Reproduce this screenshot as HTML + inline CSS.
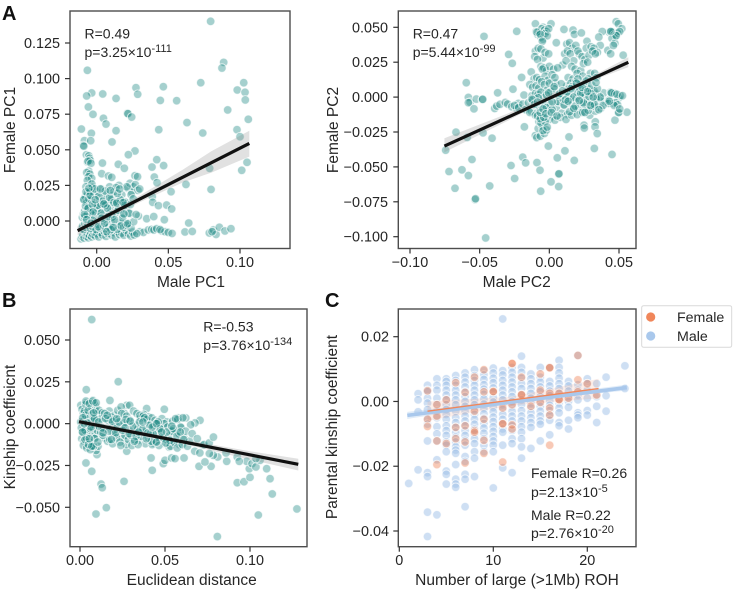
<!DOCTYPE html>
<html lang="en">
<head>
<meta charset="utf-8">
<title>Kinship and PC correlation panels</title>
<style>
html,body{margin:0;padding:0;background:#fff;width:733px;height:591px;overflow:hidden}
svg{display:block;filter:blur(0.35px)}
text{font-family:"Liberation Sans",sans-serif;fill:#262626}
.ann{font-size:14px}
.sup{font-size:11px}
.letter{font-size:20px;font-weight:bold;fill:#111}
.leg{font-size:14.2px}
</style>
</head>
<body>
<svg id="figure" width="733" height="591" viewBox="0 0 733 591" xmlns="http://www.w3.org/2000/svg">
  <g id="layer"></g>
  <text class="letter" x="2" y="20">A</text>
  <text class="letter" x="2" y="307">B</text>
  <text class="letter" x="325" y="307">C</text>

  <text class="ann" x="84.5" y="38.7">R=0.49</text>
  <text class="ann" x="84.5" y="57">p=3.25×10<tspan class="sup" dy="-5">-111</tspan></text>

  <text class="ann" x="412.7" y="38.7">R=0.47</text>
  <text class="ann" x="412.7" y="57">p=5.44×10<tspan class="sup" dy="-5">-99</tspan></text>

  <text class="ann" x="203.3" y="331.7">R=-0.53</text>
  <text class="ann" x="203.3" y="350">p=3.76×10<tspan class="sup" dy="-5">-134</tspan></text>

  <text class="ann" x="531" y="478">Female R=0.26</text>
  <text class="ann" x="531" y="497">p=2.13×10<tspan class="sup" dy="-5">-5</tspan></text>
  <text class="ann" x="531" y="520">Male R=0.22</text>
  <text class="ann" x="531" y="538">p=2.76×10<tspan class="sup" dy="-5">-20</tspan></text>

  <g>
    <rect x="641.7" y="305.7" width="90" height="41.6" rx="2" fill="#fff" stroke="#d9d9d9" stroke-width="1"></rect>
    <circle cx="650.7" cy="317" r="4.6" fill="#f0865a"></circle>
    <text class="leg" x="677" y="322">Female</text>
    <circle cx="650.7" cy="336" r="4.6" fill="#a9c8ec"></circle>
    <text class="leg" x="677" y="341">Male</text>
  </g>
</svg>

<script>
/* ===== Panel A left: Male PC1 vs Female PC1 ===== */
const pc1XTicks = [0, 0.05, 0.1];
const pc1YTicks = [0, 0.025, 0.05, 0.075, 0.1, 0.125];
const pc1OutlierMale = [
.0795,.0886,.0874,-.0065,.0726,.1026,.0274,.0465,.0981,.1035,
-.0035,-.007,.0042,.0286,.0135,.0444,.0558,.1037,-.0058,.0914,
-.0026,.0214,.0218,.0244,.0047,.0065,.063,.1058,-.0107,.0433,
.0135,.0979,-.0037,.074,.1,-.0086,-.0042,.0107,-.0093,-.0090,
.0267,.0221,.0419,.1049,.004,.0151,.0386,.0467,.0193,.0788,
.1012,.0035,.0082,.0105,.0267,.0285,.0402,.0421,.0623,.0798,
.0519,.0388,.0391,.0431,.0488,.0523,.0291,.0349,.0398,.0472,
.0642];
const pc1OutlierFemale = [
.1402,.1114,.1074,.1058,.0971,.0971,.0936,.0943,.092,.0904,
.0899,.0878,.0892,.089,.0861,.0847,.0845,.085,.0801,.078,
.0749,.0756,.0754,.073,.0721,.0681,.0691,.0714,.0646,.0641,
.0634,.0641,.0616,.0618,.0592,.0564,.0564,.0555,.0531,.0525,
.0492,.0466,.0431,.0412,.0407,.0398,.0379,.0389,.037,.037,
.0356,.0332,.0316,.0307,.0318,.0311,.0309,.0269,.0257,.0222,
.0206,.0171,.0131,.0108,.0112,.0085,.0035,.0016,.0031,.0009,
-.0014];
const pc1RowMale = [
.0302,.0326,.036,.0384,.04,.0419,.0453,.0477,.05,.0526,
.0616,.0667,.0786,.0814,.0833,.0856,.0895,.0937,.0805,.0442];
const pc1RowFemale = [
-.0075,-.008,-.0063,-.0059,-.0063,-.0054,-.007,-.0075,-.008,-.0087,
-.0077,-.0073,-.0084,-.0063,-.0094,-.0044,-.007,-.0054,-.0075,-.006];
const pc1ColumnMale = [
-.0072,-.0055,-.0050,-.0065,-.0045,-.0060,-.0040,-.0055,-.0070,-.0048,
-.0058,-.0035,-.0065,-.0075,-.0050,-.0042];
const pc1ColumnFemale = [
.0465,.0458,.0440,.0415,.0425,.0420,.0405,.0350,.0340,.0330,
.0310,.0300,.0285,.0240,.0225,.0210];
const pc1DenseMale = [
-.0110,-.0102,-.0095,-.0088,-.0080,-.0072,-.0065,-.0058,-.0050,-.0042,
-.0035,-.0026,-.0018,-.0010,.0002,.0015,.0028,.0040,.0052,.0065,
.0078,.0090,.0105,.0118,.0130,.0145,.0160,.0175,.0190,.0205,
.0222,.0238,.0250,.0262,.0280,-.0105,-.0098,-.0090,-.0082,-.0075,
-.0068,-.0060,-.0052,-.0044,-.0036,-.0028,-.0016,-.0004,.0010,.0022,
.0035,.0048,.0060,.0072,.0085,.0098,.0112,.0128,.0142,.0158,
.0172,.0188,.0205,.0220,.0240,.0258,-.0100,-.0092,-.0084,-.0076,
-.0068,-.0060,-.0052,-.0044,-.0035,-.0025,-.0015,-.0003,.0012,.0026,
.0040,.0055,.0068,.0082,.0096,.0110,.0124,.0138,.0152,.0168,
.0185,.0202,.0218,.0234,-.0088,-.0080,-.0072,-.0064,-.0056,-.0048,
-.0040,-.0032,-.0024,-.0012,.0004,.0018,.0032,.0046,.0060,.0075,
.0090,.0105,.0120,.0138,.0155,.0175,.0195,.0215,.0232,.0245,
.0255,.0270,.0288,.0300,-.0085,-.0072,-.0060,-.0050,-.0040,-.0030,
-.0078,-.0066,-.0054,-.0046,-.0034,.0006,.0030,.0062,.0100,.0140];
const pc1DenseFemale = [
-.0125,-.0110,-.0098,-.0120,-.0085,-.0108,-.0092,-.0118,-.0100,-.0082,
-.0112,-.0095,-.0078,-.0105,-.0090,-.0112,-.0080,-.0098,-.0072,-.0108,
-.0088,-.0068,-.0100,-.0082,-.0112,-.0075,-.0095,-.0085,-.0100,-.0065,
-.0090,-.0105,-.0078,-.0098,-.0088,-.0055,-.0035,-.0060,-.0020,-.0045,
-.0010,-.0030,.0000,-.0052,-.0018,-.0040,-.0005,-.0060,-.0025,-.0048,
.0002,-.0032,-.0055,-.0012,-.0042,.0006,-.0038,-.0008,-.0058,-.0022,
-.0012,-.0045,-.0030,-.0015,-.0050,-.0005,.0025,.0050,.0070,.0042,
.0085,.0030,.0060,.0095,.0040,.0075,.0020,.0058,.0105,.0032,
.0078,.0015,.0110,.0048,.0088,.0028,.0120,.0062,.0095,.0135,
.0040,.0085,.0125,.0052,.0150,.0170,.0135,.0195,.0160,.0215,
.0145,.0240,.0185,.0130,.0205,.0160,.0225,.0150,.0190,.0125,
.0240,.0175,.0205,.0150,.0250,.0185,.0135,.0230,.0265,.0200,
.0240,.0255,.0215,.0225,.0030,.0125,.0085,.0175,.0065,.0235,
.0105,.0045,.0155,.0205,.0260,.0090,.0120,.0110,.0150,.0135];
const pc1ExtraMale = [
.0005,.0015,.0030,.0045,.0060,.0075,.0090,.0105,.0120,.0135,
.0150,.0165,.0180,.0195,.0210,.0225,.0240,-.0090,-.0075,-.0060,
-.0045,-.0030,-.0015,.0010,.0035,.0055,.0080,.0100,.0125,.0145,
.0170,.0190,.0215,.0235,.0255,.0275,-.0085,-.0070,-.0055,-.0040,
-.0025,-.0010,.0025,.0050,.0070,.0095,.0115,.0140,.0160,.0185];
const pc1ExtraFemale = [
.0110,.0175,.0055,.0140,.0210,.0090,.0165,.0045,.0130,.0235,
.0075,.0150,.0020,.0110,.0240,.0055,.0185,.0150,.0205,.0090,
.0180,.0115,.0225,-.0040,.0020,-.0015,.0030,-.0060,.0010,.0195,
-.0035,.0050,-.0020,.0115,.0155,.0045,.0045,.0010,.0230,-.0015,
.0065,.0150,.0225,.0120,-.0075,.0215,-.0045,.0125,.0225,.0130];
const pc1LineMale = [-.0133, .1065];
const pc1LineFemale = [-.0068, .0545];
const pc1BandMale = [-.0133, .01, .03, .06, .08, .1065];
const pc1BandHigh = [-.0035, .0071, .0178, .036, .049, .0634];
const pc1BandLow = [-.0100, .0031, .0132, .027, .034, .0452];

/* ===== Panel A right: Male PC2 vs Female PC2 ===== */
const pc2XTicks = [-0.1, -0.05, 0, 0.05];
const pc2YTicks = [-0.1, -0.075, -0.05, -0.025, 0, 0.025, 0.05];
const pc2OutlierMale = [
-.0457,-.0533,-.0530,-.0677,-.0428,-.072,-.0627,-.0581,-.0555,-.0744,
-.067,-.0589,-.0476,-.0411,-.0275,-.0249,-.0191,-.017,-.0089,-.0067,
-.0062,.0012,.0067,.0069,.0067,.0057,.0112,.0179,-.0007,.0141,
.0323,.045,-.0179,.0249,.0251,.033,.0328,.0344,.0471,.0557,
.0495,.0498,-.0469,-.0234,-.0292,-.0266,-.0199,-.0596,-.0371,-.0261,
-.0581,-.0569,-.0581,-.0524,-.0481,-.0478,-.0541,-.0392,-.0378,-.0354,
-.0316,-.0299,-.0270,-.0222,-.0234,-.0182];
const pc2OutlierFemale = [
-.1009,-.0734,-.0728,-.0653,-.0636,-.0533,-.0521,-.0562,-.0447,-.038,
-.0251,-.0289,-.0256,-.0294,-.049,-.0583,-.043,-.0471,-.0469,-.0524,
-.0674,-.0607,-.0552,-.0549,-.0641,-.0435,-.0385,-.0454,-.0351,-.0285,
-.0368,-.0411,-.0213,-.0201,-.0222,-.0177,-.0213,-.0261,-.0165,-.0108,
-.0112,-.0110,.0435,.0471,.0306,.0242,.0141,.0103,.0031,.0057,
-.0002,-.0036,-.0040,-.0014,-.0017,-.0016,-.0084,-.0081,-.0064,-.0052,
-.0038,-.0050,-.0069,-.0045,-.0081,.0015];
const pc2TopLeftMale = [
-.0100,-.0095,-.0075,-.0060,-.0045,-.0085,-.0080,-.0070,-.0055,-.0035,
-.0020,.0012,-.0060,-.0045,-.0030,-.0015,-.0005,-.0090,-.0065,-.0050];
const pc2TopLeftFemale = [
.0525,.0470,.0465,.0455,.0500,.0450,.0470,.0455,.0490,.0480,
.0470,.0525,.0430,.0415,.0455,.0440,.0490,.0465,.0450,.0400];
const pc2TopRightMale = [
.0430,.0455,.0480,.0495,.0520,.0445,.0465,.0475,.0490,.0505,
.0450,.0470,.0480,.0420,.0440,.0460,.0440,.0530,.0380,.0365];
const pc2TopRightFemale = [
.0465,.0465,.0540,.0525,.0490,.0470,.0445,.0440,.0460,.0470,
.0420,.0385,.0440,.0335,.0310,.0370,.0470,.0300,.0470,.0370];
const pc2UpperMale = [
.0105,.0170,.0180,.0230,.0270,.0125,.0145,.0165,.0190,.0215,
.0265,.0300,.0320,.0345,.0355,.0110,.0130,.0150,.0175,.0205,
.0235,.0255,.0285,.0310,.0330,.0095,.0120,.0160,.0185,.0225,
.0245,.0275,.0295,.0135,.0170,.0200,.0240,.0280,.0325,.0125,
.0155,.0190,.0220,.0260,.0340,.0050];
const pc2UpperFemale = [
.0485,.0480,.0450,.0460,.0400,.0380,.0390,.0350,.0370,.0310,
.0350,.0360,.0350,.0320,.0430,.0310,.0330,.0310,.0260,.0330,
.0290,.0270,.0300,.0330,.0310,.0230,.0260,.0220,.0200,.0190,
.0240,.0250,.0170,.0140,.0130,.0170,.0150,.0130,.0170,.0080,
.0100,.0110,.0090,.0070,.0140,.0390];
const pc2MidMale = [
-.0100,-.0080,-.0060,-.0045,-.0030,-.0005,-.0105,-.0085,-.0060,-.0040,
-.0020,.0000,.0030,.0060,-.0130,-.0110,-.0090,-.0070,-.0050,-.0030,
-.0010,.0020,.0045,-.0140,-.0120,-.0095,-.0075,-.0055,-.0035,-.0015,
.0010,.0035,-.0125,-.0100,-.0080,-.0060,-.0040,-.0020];
const pc2MidFemale = [
.0330,.0350,.0345,.0280,.0320,.0310,.0290,.0270,.0220,.0210,
.0190,.0220,.0200,.0210,.0180,.0130,.0140,.0125,.0200,.0150,
.0120,.0160,.0100,.0090,.0070,.0080,.0065,.0110,.0090,.0050,
.0040,.0060,.0010,.0025,.0020,.0035,-.0005,.0015];
const pc2BandCoreMale = [
-.0250,-.0220,-.0190,-.0170,-.0150,-.0130,-.0110,-.0090,-.0070,-.0050,
-.0030,-.0010,.0010,.0030,.0050,.0070,.0090,.0110,.0130,.0150,
.0170,.0190,.0210,.0230,.0250,.0270,.0290,.0310,.0330,.0350,
.0370,.0400,.0430,.0460,.0500,-.0140,-.0120,-.0100,-.0080,-.0060,
-.0040,-.0020,.0000,.0020,.0040,.0060,.0080,.0100,.0120,.0140,
.0160,.0180,.0200,.0220,.0240,.0260,.0280,.0300,.0320,.0345,
.0365,.0390,.0425,.0450,.0475,.0510,.0120,.0140,.0160,.0180,
.0200,.0220,.0240,.0260,.0280,.0300,.0320,.0100,.0135,.0175,
.0210,.0250,.0290,.0335,.0385,.0440,.0470,.0490];
const pc2BandCoreFemale = [
-.0060,-.0075,-.0050,-.0090,-.0040,-.0100,-.0055,-.0115,-.0070,-.0130,
-.0060,-.0100,-.0050,-.0135,-.0075,-.0035,-.0115,-.0060,-.0125,-.0040,
-.0090,-.0025,-.0070,-.0110,-.0030,-.0085,-.0130,-.0045,-.0100,-.0020,
-.0080,-.0030,-.0020,-.0045,-.0005,-.0110,-.0020,-.0130,-.0005,-.0140,
-.0150,-.0075,-.0160,-.0090,-.0165,-.0030,-.0145,-.0015,-.0160,-.0020,
-.0130,-.0010,-.0125,.0015,-.0110,.0010,-.0095,.0030,-.0065,.0020,
-.0010,.0030,-.0045,.0030,-.0040,.0010,.0040,.0060,.0045,.0070,
.0035,.0060,.0030,.0050,.0060,.0035,.0045,.0015,.0010,.0000,
-.0020,-.0050,-.0035,-.0010,-.0060,.0035,.0025,-.0055];
const pc2LowerMale = [
-.0100,-.0090,-.0080,-.0065,-.0050,-.0035,-.0020,-.0075,-.0060,-.0045,
-.0030,-.0015,-.0085,-.0065,-.0040];
const pc2LowerFemale = [
-.0275,-.0290,-.0225,-.0280,-.0210,-.0260,-.0235,-.0175,-.0185,-.0240,
-.0175,-.0215,-.0135,-.0155,-.0145];
const pc2ExtraMale = [
.0000,.0020,.0040,.0065,.0085,.0105,.0125,.0145,.0165,.0185,
.0205,.0225,.0245,.0265,.0285,.0305,.0325,.0345,.0365,-.0125,
-.0105,-.0085,-.0065,-.0045,-.0025,-.0005,.0015,.0035,.0055,.0075,
.0095,.0115,.0135,.0155,.0175,.0195,.0215,.0235,.0255,.0275,
.0295,.0315,.0335,.0355,.0445,.0465,.0485,.0505,.0525,.0430];
const pc2ExtraFemale = [
.0100,-.0035,.0140,.0015,.0095,-.0055,.0035,-.0105,.0075,-.0065,
.0130,.0025,-.0040,.0115,.0005,.0085,-.0055,.0060,.0000,-.0015,
-.0050,-.0035,-.0110,-.0085,-.0120,.0030,-.0110,.0075,-.0135,.0025,
.0045,-.0020,-.0030,.0060,-.0080,.0100,-.0025,.0070,-.0110,.0040,
-.0060,.0000,.0105,-.0090,.0030,-.0060,.0020,-.0085,.0010,-.0030];
const pc2LineMale = [-.0753, .0567];
const pc2LineFemale = [-.0351, .0249];
const pc2BandMale = [-.0753, -.03, 0, .03, .0567];
const pc2BandHigh = [-.0295, -.0118, .0018, .0145, .0285];
const pc2BandLow = [-.0395, -.0170, -.0012, .0115, .0215];

/* ===== Panel B: Euclidean distance vs kinship ===== */
const kinXTicks = [0, 0.05, 0.1];
const kinYTicks = [-0.05, -0.025, 0, 0.025, 0.05];
const kinOutlierDistance = [
.0069,.0225,.0037,.0035,.0069,.0124,.0131,.0259,.0094,.0155,
.0808,.1049,.1276,.1131,.1118,.0925,.0965,.1,.1098,.0996,
.0980,.1012,.1035,.1059,.1035,.0925,.0937,.0863,.0859,.081,
.0784,.0761,.0771,.07,.0735,.0725,.0425,.0418,.0490,.0500,
.0539,.0559,.0612,.0275,.0706,.0676,.0651,.0622,.0578,.0496,
.0392,.0176,.0275,.0100,.0095];
const kinOutlierCoefficient = [
.0622,.0251,.0203,-.0235,-.0285,-.0361,-.0383,-.0345,-.054,-.0502,
-.0675,-.0546,-.051,-.042,-.0329,-.0353,-.0347,-.0321,-.0269,-.0269,
-.0225,-.0239,-.0259,-.0219,-.0209,-.0199,-.0225,-.0225,-.0175,-.0199,
-.0189,-.0179,-.0255,-.0255,-.0229,-.0129,-.0279,-.0205,-.0239,-.0219,
-.0205,-.0209,-.0205,-.0165,.002,.0004,-.0006,.0034,.0034,.0086,
.009,.0139,.011,-.0185,-.0160];
const kinDenseDistance = [
.0005,.0012,.0020,.0028,.0036,.0044,.0052,.0060,.0068,.0076,
.0084,.0092,.0100,.0010,.0018,.0026,.0034,.0042,.0050,.0058,
.0066,.0074,.0082,.0090,.0098,.0106,.0004,.0014,.0024,.0032,
.0040,.0048,.0056,.0064,.0072,.0080,.0088,.0096,.0008,.0016,
.0030,.0038,.0046,.0054,.0062,.0070,.0078,.0086,.0094,.0102,
.0112,.0122,.0132,.0142,.0152,.0162,.0172,.0182,.0192,.0202,
.0212,.0222,.0232,.0242,.0252,.0262,.0272,.0282,.0292,.0302,
.0115,.0125,.0135,.0145,.0155,.0165,.0175,.0185,.0195,.0205,
.0215,.0225,.0235,.0245,.0255,.0265,.0275,.0285,.0295,.0305,
.0315,.0325,.0335,.0345,.0355,.0365,.0375,.0385,.0395,.0405,
.0320,.0330,.0342,.0352,.0362,.0372,.0382,.0392,.0402,.0412,
.0422,.0432,.0442,.0452,.0462,.0472,.0482,.0492,.0502,.0512,
.0415,.0425,.0435,.0445,.0455,.0465,.0475,.0485,.0495,.0505,
.0515,.0525,.0535,.0545,.0555,.0565,.0575,.0585,.0595,.0605,
.0522,.0532,.0542,.0552,.0562,.0572,.0582,.0592,.0602,.0612,
.0622,.0632,.0645,.0660,.0675,.0690,.0705,.0730,.0760,.0785,
.0020,.0040,.0060,.0080,.0035,.0055,.0075,.0095,.0030,.0050,
.0070,.0140,.0180,.0220,.0260,.0300,.0340,.0380,.0420,.0460];
const kinDenseCoefficient = [
.0110,.0085,.0060,.0025,.0125,-.0015,.0095,.0045,-.0055,.0140,
.0015,.0105,.0060,-.0090,-.0035,.0075,.0115,-.0070,.0030,-.0100,
.0100,-.0115,.0125,-.0060,.0020,-.0135,.0010,-.0050,-.0105,.0050,
-.0125,.0080,-.0025,-.0140,.0060,-.0135,-.0010,-.0080,-.0025,.0035,
-.0040,-.0085,.0000,-.0110,-.0030,-.0130,.0035,-.0090,.0075,-.0040,
.0080,-.0050,.0065,-.0085,.0035,-.0105,.0075,-.0020,-.0120,.0050,
-.0065,.0080,-.0030,.0100,-.0085,.0060,-.0125,.0015,.0110,-.0045,
-.0020,.0030,-.0070,.0060,-.0035,.0020,-.0095,.0040,-.0055,.0005,
-.0085,.0025,-.0110,.0060,-.0015,-.0070,.0045,-.0095,.0020,-.0130,
.0075,-.0055,.0060,-.0100,.0035,-.0035,.0055,-.0120,.0020,.0040,
-.0095,-.0010,-.0125,.0050,-.0075,.0045,-.0050,.0025,-.0085,-.0005,
.0035,-.0115,.0020,-.0060,.0015,-.0090,.0030,-.0030,-.0120,.0010,
-.0060,-.0125,-.0015,-.0105,.0005,-.0130,-.0035,-.0075,.0000,-.0095,
-.0020,-.0140,-.0040,.0015,-.0110,-.0055,.0025,-.0125,-.0025,.0035,
-.0075,-.0135,-.0045,-.0110,.0030,-.0145,-.0060,-.0020,-.0125,-.0085,
-.0045,-.0135,-.0105,-.0060,-.0165,-.0090,-.0175,-.0125,-.0115,-.0080,
-.0130,-.0145,-.0155,-.0135,.0135,.0120,.0135,.0125,-.0095,-.0125,
-.0135,-.0030,.0025,-.0015,.0005,-.0070,-.0030,.0035,-.0105,.0010];
const kinExtraDistance = [
.0015,.0045,.0065,.0085,.0110,.0130,.0150,.0170,.0190,.0210,
.0230,.0250,.0270,.0290,.0310,.0330,.0350,.0370,.0390,.0410,
.0430,.0450,.0470,.0490,.0510,.0530,.0550,.0570,.0590,.0610,
.0025,.0055,.0080,.0105,.0135,.0160,.0185,.0215,.0240,.0265,
.0295,.0320,.0345,.0370,.0400,.0425,.0450,.0480,.0505,.0540];
const kinExtraCoefficient = [
-.0050,.0005,-.0020,.0030,.0010,-.0025,.0030,-.0045,.0015,-.0055,
.0010,-.0040,.0025,-.0060,-.0015,-.0075,.0010,-.0030,-.0090,-.0010,
-.0060,-.0110,-.0030,-.0085,-.0050,-.0100,-.0030,-.0075,-.0050,-.0095,
.0000,-.0090,.0065,-.0110,-.0055,.0050,-.0095,.0030,-.0130,-.0025,
.0015,-.0105,-.0050,.0010,-.0055,-.0020,.0000,-.0050,-.0115,-.0015];
const kinLineDistance = [-.0006, .1284];
const kinLineCoefficient = [.0012, -.0243];
const kinBandDistance = [-.0006, .05, .1, .1284];
const kinBandHigh = [.0030, -.0075, -.0165, -.0210];
const kinBandLow = [-.0005, -.0095, -.0215, -.0280];

/* ===== Panel C: number of ROH vs parental kinship ===== */
const rohXTicks = [0, 10, 20];
const rohYTicks = [-0.04, -0.02, 0, 0.02];
const rohCounts = [1,2,3,4,5,6,7,8,9,10,11,12,13,14,15,16,17,18,19,20,21,22,24];
const maleKinship = [
[-.0253],
[.0024,.0005,-.0032,-.0211],
[.005,.0035,.003,.001,-.0005,-.0025,-.0055,-.007,-.0122,-.022,-.0232,-.0342,-.0417],
[.007,.005,.0035,.001,-.001,-.003,-.005,-.0078,-.01,-.0122,-.018,-.035],
[.007,.0062,.005,.0035,.002,.0005,-.001,-.0025,-.004,-.0055,-.0075,-.009,-.0105,-.0125,-.0135,-.0155,-.0215,-.0225,-.0255],
[.008,.0065,.005,.0035,.002,.0005,-.001,-.003,-.005,-.0065,-.008,-.0095,-.011,-.0125,-.014,-.015,-.016,-.0195,-.024,-.0255,-.0265],
[.0088,.0075,.006,.0045,.003,.0015,0,-.0015,-.003,-.0045,-.006,-.0075,-.009,-.0105,-.012,-.0135,-.017,-.0185,-.0225,-.024,-.0325],
[.0098,.008,.0065,.005,.0035,.002,.0005,-.001,-.0025,-.004,-.0055,-.007,-.0085,-.01,-.0115,-.013,-.0155,-.0175,-.0232],
[.0095,.0082,.0068,.0052,.0038,.0022,.0008,-.0008,-.0022,-.0038,-.0052,-.0068,-.0082,-.0098,-.0115,-.0135,-.0155],
[.0103,.0088,.0072,.0058,.0042,.0028,.0012,-.0002,-.0018,-.0032,-.0048,-.0062,-.0078,-.0092,-.0108,-.0122,-.0135,-.0155,-.0267],
[.0255,.0095,.0082,.0065,.005,.0035,.002,.0005,-.001,-.0025,-.004,-.0055,-.007,-.0085,-.0095,-.0135,-.0205],
[.0105,.009,.0075,.006,.0045,.003,.0015,0,-.0015,-.003,-.0045,-.006,-.0075,-.009,-.0115,-.013,-.022],
[.014,.0105,.009,.0072,.0055,.004,.0022,.0005,-.001,-.0028,-.0045,-.006,-.0078,-.0095,-.0115,-.014,-.0175],
[.0085,.007,.0055,.004,.0025,.001,-.0005,-.002,-.0035,-.005,-.0065,-.008,-.0145],
[.0105,.0075,.006,.0045,.003,.0015,0,-.0015,-.003,-.0045,-.006,-.007,-.0122],
[.0105,.0062,.0048,.0032,.0018,.0002,-.0012,-.0028,-.0042,-.0058,-.0103],
[.0127,.0105,.0088,.0072,.0055,.004,.0025,.001,-.0005,-.002,-.0035,-.0065,-.0075],
[.0062,.0048,.0032,.0015,0,-.0018,-.0058,-.0085],
[.0142,.0052,.0035,.002,.0005,-.0035,-.0042,-.005],
[.007,.0055,.0035,.001,-.0028,-.0042],
[.0055,.0015,-.0015,-.0065],
[.0075,.0018,-.003],
[.011,.004]];
const femaleRoh = [
3,3,3,4,4,4,4,5,5,6,
6,6,7,7,7,7,8,8,8,8,
9,9,9,9,9,10,10,11,11,11,
11,12,12,12,12,12,13,13,13,14,
15,15,15,16,16,16,16,16,16,17,
17,17,18,19,19,19,20,21];
const femaleKinship = [
.0033,-.0055,-.0077,-.001,-.0045,-.0122,-.0195,.0005,-.013,.0058,
-.008,-.0115,.0028,-.0075,-.0125,-.019,.0075,-.003,-.009,-.0095,
.0098,.003,-.0055,-.012,-.016,.003,.0031,-.002,-.0068,-.0069,
-.0187,.0118,.0117,-.001,-.0072,-.0085,.0075,.002,.0021,-.0015,
.0085,.0035,-.0003,.0105,.0104,.0025,-.002,-.0042,-.0135,.0005,
.0006,.0025,.001,.0142,.0067,.003,.0055,.002];
const maleLineRoh = [.85, 24.2];
const maleLineKinship = [-.0043, .0043];
const maleBandRoh = [.85, 12, 24.2];
const maleBandHigh = [-.0032, .0006, .0052];
const maleBandLow = [-.0054, -.0002, .0034];
const femaleLineRoh = [3, 21.2];
const femaleLineKinship = [-.0030, .0040];
const femaleBandRoh = [3, 12, 21.2];
const femaleBandHigh = [.0000, .0015, .0070];
const femaleBandLow = [-.0060, -.0012, .0010];

/* ===== axis functions and drawing ===== */
const SVGNS = 'http://www.w3.org/2000/svg';
const layer = document.getElementById('layer');

function linear(d0, d1, r0, r1) {
  return function (v) { return r0 + (v - d0) * (r1 - r0) / (d1 - d0); };
}
function tickText(v, digits) {
  return v.toFixed(digits).replace('-', '\u2212');
}
function addLine(parent, name, x1, y1, x2, y2, color, width, cap) {
  const el = document.createElementNS(SVGNS, 'line');
  
  
  el.setAttribute('x1', x1);
  el.setAttribute('y1', y1);
  el.setAttribute('x2', x2);
  el.setAttribute('y2', y2);
  el.setAttribute('stroke', color);
  el.setAttribute('stroke-width', width);
  if (cap) el.setAttribute('stroke-linecap', cap);
  parent.appendChild(el);
}
function addText(parent, name, x, y, str, size, anchor, rotate) {
  const el = document.createElementNS(SVGNS, 'text');
  
  
  el.setAttribute('x', x);
  el.setAttribute('y', y);
  el.setAttribute('font-size', size);
  el.setAttribute('text-anchor', anchor);
  if (rotate) el.setAttribute('transform', 'rotate(-90 ' + x + ' ' + y + ')');
  el.textContent = str;
  parent.appendChild(el);
}
function addPoints(parent, name, xs, ys, sx, sy, fill, opacity) {
  const n = Math.min(xs.length, ys.length);
  for (let i = 0; i < n; i++) {
    const c = document.createElementNS(SVGNS, 'circle');
    
    
    c.setAttribute('cx', sx(xs[i]).toFixed(2));
    c.setAttribute('cy', sy(ys[i]).toFixed(2));
    c.setAttribute('r', 4.3);
    c.setAttribute('fill', fill);
    c.setAttribute('fill-opacity', opacity);
    c.setAttribute('stroke', '#ffffff');
    c.setAttribute('stroke-opacity', 0.7);
    c.setAttribute('stroke-width', 1);
    parent.appendChild(c);
  }
}
function addBand(parent, name, xs, hi, lo, sx, sy, fill, opacity) {
  const pts = [];
  for (let i = 0; i < xs.length; i++) pts.push(sx(xs[i]).toFixed(2) + ',' + sy(hi[i]).toFixed(2));
  for (let i = xs.length - 1; i >= 0; i--) pts.push(sx(xs[i]).toFixed(2) + ',' + sy(lo[i]).toFixed(2));
  const el = document.createElementNS(SVGNS, 'polygon');
  
  
  el.setAttribute('points', pts.join(' '));
  el.setAttribute('fill', fill);
  el.setAttribute('fill-opacity', opacity);
  parent.appendChild(el);
}
function addPanel(name) {
  const g = document.createElementNS(SVGNS, 'g');
  
  
  layer.appendChild(g);
  return g;
}
function addAxes(g, box, sx, sy, xTicks, yTicks, xDigits, yDigits, xLabel, yLabel, xLabelX, yLabelX, yLabelY, xLabelBase, tickBase, yTickRight) {
  const frame = document.createElementNS(SVGNS, 'rect');
  
  
  frame.setAttribute('x', box[0]);
  frame.setAttribute('y', box[1]);
  frame.setAttribute('width', box[2] - box[0]);
  frame.setAttribute('height', box[3] - box[1]);
  frame.setAttribute('fill', 'none');
  frame.setAttribute('stroke', '#4d4d4d');
  frame.setAttribute('stroke-width', 1.4);
  g.appendChild(frame);
  xTicks.forEach(function (t) {
    addLine(g, 'x-tick', sx(t), box[3], sx(t), box[3] + 5, '#333333', 1.2);
    addText(g, 'x-tick-label', sx(t), tickBase, tickText(t, xDigits), 14.4, 'middle');
  });
  yTicks.forEach(function (t) {
    addLine(g, 'y-tick', box[0] - 5, sy(t), box[0], sy(t), '#333333', 1.2);
    addText(g, 'y-tick-label', yTickRight, sy(t) + 5, tickText(t, yDigits), 14.4, 'end');
  });
  addText(g, 'x-axis-title', xLabelX, xLabelBase, xLabel, 15.5, 'middle');
  addText(g, 'y-axis-title', yLabelX, yLabelY, yLabel, 15.5, 'middle', true);
}

/* Panel A left */
(function () {
  const g = addPanel('panel-pc1');
  const sx = linear(0, 0.1, 96.7, 240);
  const sy = linear(0, 0.125, 221, 43);
  const fill = '#1f8a84';
  addPoints(g, 'pc1-point', pc1OutlierMale, pc1OutlierFemale, sx, sy, fill, 0.4);
  addPoints(g, 'pc1-point', pc1RowMale, pc1RowFemale, sx, sy, fill, 0.4);
  addPoints(g, 'pc1-point', pc1ColumnMale, pc1ColumnFemale, sx, sy, fill, 0.4);
  addPoints(g, 'pc1-point', pc1DenseMale, pc1DenseFemale, sx, sy, fill, 0.4);
  addPoints(g, 'pc1-point', pc1ExtraMale, pc1ExtraFemale, sx, sy, fill, 0.4);
  addBand(g, 'pc1-confidence-band', pc1BandMale, pc1BandHigh, pc1BandLow, sx, sy, '#888888', 0.25);
  addLine(g, 'pc1-regression-line', sx(pc1LineMale[0]), sy(pc1LineFemale[0]), sx(pc1LineMale[1]), sy(pc1LineFemale[1]), '#111111', 3.2);
  addAxes(g, [70, 11, 290, 248.5], sx, sy, pc1XTicks, pc1YTicks, 2, 3, 'Male PC1', 'Female PC1', 191, 15, 130, 287, 267, 60);
})();

/* Panel A right */
(function () {
  const g = addPanel('panel-pc2');
  const sx = linear(-0.1, 0.05, 410, 619);
  const sy = linear(-0.1, 0.05, 236.7, 27.3);
  const fill = '#1f8a84';
  addPoints(g, 'pc2-point', pc2OutlierMale, pc2OutlierFemale, sx, sy, fill, 0.4);
  addPoints(g, 'pc2-point', pc2TopLeftMale, pc2TopLeftFemale, sx, sy, fill, 0.4);
  addPoints(g, 'pc2-point', pc2TopRightMale, pc2TopRightFemale, sx, sy, fill, 0.4);
  addPoints(g, 'pc2-point', pc2UpperMale, pc2UpperFemale, sx, sy, fill, 0.4);
  addPoints(g, 'pc2-point', pc2MidMale, pc2MidFemale, sx, sy, fill, 0.4);
  addPoints(g, 'pc2-point', pc2BandCoreMale, pc2BandCoreFemale, sx, sy, fill, 0.4);
  addPoints(g, 'pc2-point', pc2LowerMale, pc2LowerFemale, sx, sy, fill, 0.4);
  addPoints(g, 'pc2-point', pc2ExtraMale, pc2ExtraFemale, sx, sy, fill, 0.4);
  addBand(g, 'pc2-confidence-band', pc2BandMale, pc2BandHigh, pc2BandLow, sx, sy, '#888888', 0.25);
  addLine(g, 'pc2-regression-line', sx(pc2LineMale[0]), sy(pc2LineFemale[0]), sx(pc2LineMale[1]), sy(pc2LineFemale[1]), '#111111', 3.2);
  addAxes(g, [398.3, 11, 636, 248.5], sx, sy, pc2XTicks, pc2YTicks, 2, 3, 'Male PC2', 'Female PC2', 516.7, 338, 130, 287, 267, 388);
})();

/* Panel B */
(function () {
  const g = addPanel('panel-kinship-distance');
  const sx = linear(0, 0.1, 80, 250);
  const sy = linear(-0.05, 0.05, 507.3, 340);
  const fill = '#1f8a84';
  addPoints(g, 'kinship-point', kinOutlierDistance, kinOutlierCoefficient, sx, sy, fill, 0.4);
  addPoints(g, 'kinship-point', kinDenseDistance, kinDenseCoefficient, sx, sy, fill, 0.4);
  addPoints(g, 'kinship-point', kinExtraDistance, kinExtraCoefficient, sx, sy, fill, 0.4);
  addBand(g, 'kinship-confidence-band', kinBandDistance, kinBandHigh, kinBandLow, sx, sy, '#888888', 0.25);
  addLine(g, 'kinship-regression-line', sx(kinLineDistance[0]), sy(kinLineCoefficient[0]), sx(kinLineDistance[1]), sy(kinLineCoefficient[1]), '#111111', 3.2);
  addAxes(g, [70, 309, 307, 546.7], sx, sy, kinXTicks, kinYTicks, 2, 3, 'Euclidean distance', 'Kinship coeffieicnt', 191.7, 15, 427, 585, 565, 60);
})();

/* Panel C */
(function () {
  const g = addPanel('panel-roh');
  const sx = linear(0, 20, 399.3, 587.3);
  const sy = linear(-0.04, 0.02, 531, 336.7);
  rohCounts.forEach(function (count, i) {
    const xs = maleKinship[i].map(function () { return count; });
    addPoints(g, 'male-point', xs, maleKinship[i], sx, sy, '#9dbfe8', 0.5);
  });
  addPoints(g, 'female-point', femaleRoh, femaleKinship, sx, sy, '#ee7f50', 0.42);
  addBand(g, 'female-confidence-band', femaleBandRoh, femaleBandHigh, femaleBandLow, sx, sy, '#ee7f50', 0.12);
  addBand(g, 'male-confidence-band', maleBandRoh, maleBandHigh, maleBandLow, sx, sy, '#9dbfe8', 0.3);
  addLine(g, 'male-regression-line', sx(maleLineRoh[0]), sy(maleLineKinship[0]), sx(maleLineRoh[1]), sy(maleLineKinship[1]), '#a9c8ec', 3.6);
  addLine(g, 'female-regression-line', sx(femaleLineRoh[0]), sy(femaleLineKinship[0]), sx(femaleLineRoh[1]), sy(femaleLineKinship[1]), '#f0865a', 1.4);
  addAxes(g, [398.3, 309, 636, 546.7], sx, sy, rohXTicks, rohYTicks, 0, 2, 'Number of large (>1Mb) ROH', 'Parental kinship coefficient', 517, 337, 427, 585, 565, 389);
})();
</script>
</body>
</html>
